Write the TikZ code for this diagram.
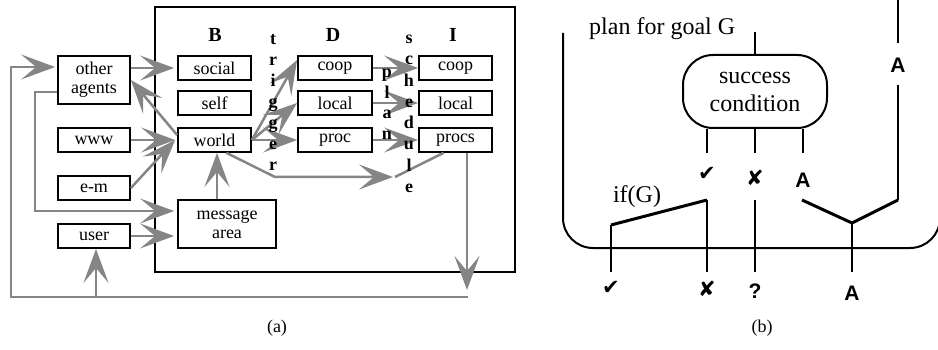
\documentclass[tikz,border=0pt]{standalone}
\usepackage{fontspec}
\setmainfont{Liberation Serif}
\newfontfamily\lsans{Liberation Sans}
\newfontfamily\dvs{DejaVu Sans}
\usetikzlibrary{arrows.meta,calc}
\definecolor{arrgray}{HTML}{858585}
\begin{document}
\begin{tikzpicture}[x=1pt,y=-1pt,
  box/.style={draw=black,line width=1.8pt,inner sep=0pt,minimum width=73pt,minimum height=24pt,
    font=\fontsize{18}{19}\selectfont,align=center},
  arr/.style={draw=arrgray,line width=2.5pt,line join=miter,-{Stealth[length=34pt,width=25pt,inset=15pt]}},
  gline/.style={draw=arrgray,line width=2.5pt},
  letter/.style={font=\fontsize{18}{18}\selectfont\bfseries,anchor=base,inner sep=0pt},
  head/.style={font=\fontsize{20}{20}\selectfont\bfseries,anchor=base,inner sep=0pt},
  rline/.style={line width=2pt,line cap=butt},
  rthick/.style={line width=3pt,line join=miter},
  sym/.style={font=\lsans\bfseries\fontsize{21}{21}\selectfont,inner sep=0pt},
  chk/.style={font=\dvs\fontsize{21}{21}\selectfont,inner sep=0pt},
  rtext/.style={font=\fontsize{24}{28}\selectfont,inner sep=0pt,align=center},
  captext/.style={font=\fontsize{18}{18}\selectfont,inner sep=0pt}
]
\useasboundingbox (0,0) rectangle (938,350);

% ---------- panel (a) ----------
\draw[line width=2pt] (155,7) rectangle (515,272);

\node[box,minimum width=72pt,minimum height=48pt] (oa) at (94,80) {other\\agents};
\node[box,minimum width=72pt] (www) at (94,140) {www};
\node[box,minimum width=72pt] (em) at (94,188) {e-m};
\node[box,minimum width=72pt] (user) at (94,236) {user};

\node[box] (social) at (214.5,68) {social};
\node[box] (self) at (214.5,103) {self};
\node[box] (world) at (214.5,140) {world};
\node[box,minimum width=98pt,minimum height=48pt] (msg) at (227,224) {message\\area};

\node[box,minimum width=74pt] (dcoop) at (335,68) {coop};
\node[box,minimum width=74pt] (dlocal) at (335,103) {local};
\node[box,minimum width=74pt] (dproc) at (335,140) {proc};

\node[box] (icoop) at (455.5,68) {coop};
\node[box] (ilocal) at (455.5,103) {local};
\node[box] (iprocs) at (455.5,140) {procs};

\node[head] (hB) at (215,41.5) {B};
\node[head] (hD) at (333,41.5) {D};
\node[head] (hI) at (453,41.5) {I};

% connectors
\draw[arr] (oa.east |- social.west) -- ([xshift=-3pt]social.west);
\draw[arr] ([yshift=5pt]world.west) -- (oa.east);
\draw[arr] (www.east) -- ([xshift=-2pt]world.west);
\draw[arr] (em.east) -- ([xshift=-2pt]world.west);
\coordinate (l1) at (35,211);
\draw[arr] ([yshift=-12pt]oa.west) -| (l1) -- ([xshift=-3pt]msg.west |- l1);
\draw[arr] (user.east) -- ([xshift=-3pt]msg.west |- user.east);
\draw[arr] ([xshift=-10pt]msg.north) -- ([xshift=-10pt]msg.north |- world.south);

\draw[arr] (world.east) -- ([yshift=8pt]dcoop.west);
\draw[arr] (world.east) -- (dlocal.west);
\draw[arr] (world.east) -- (dproc.west);

\draw[arr] (dcoop.east) -- (icoop.west);
\draw[arr] (dlocal.east) -- (ilocal.west);
\draw[arr] (dproc.east) -- (iprocs.west);

\coordinate (wb) at (275,177);
\coordinate (wt) at (393,177);
\coordinate (ws) at (395,177);
\draw[arr] ([xshift=12pt]world.south) -- (wb) -- (wt);
\draw[gline] (ws) -- ([xshift=-12pt]iprocs.south);

\coordinate (pd) at (467,290);
\draw[arr] ([xshift=11.5pt]iprocs.south) -- (pd);
\coordinate (bR) at (468,297);
\coordinate (bL) at (11,67);
\draw[arr] (bR) -| (bL) -- ([xshift=-2pt]oa.west |- bL);
\coordinate (bU) at (96,297);
\draw[arr] (bU) -- (bU |- user.south);

% vertical words
\foreach \c [count=\i] in {t,r,i,g,g,e,r}
  \node[letter,name=trg\i] at (273,{45+21*(\i-1)}) {\c};
\foreach \c [count=\i] in {p,l,a,n}
  \node[letter,name=pln\i] at (387,{78+20.5*(\i-1)}) {\c};
\foreach \c [count=\i] in {s,c,h,e,d,u,l,e}
  \node[letter,name=sch\i] at (409,{43.5+21.3*(\i-1)}) {\c};

\node[captext] (capa) at (277,328) {(a)};

% ---------- panel (b) ----------
\draw[line width=2pt] (563,33) -- (563,218) arc[start angle=180,end angle=90,radius=30]
  -- (910,248) arc[start angle=90,end angle=0,radius=30] -- (940,190);

\node[rtext,anchor=base west] (plan) at (589,35) {plan for goal G};

\node[draw,line width=2pt,rounded corners=30pt,minimum width=144pt,minimum height=73pt,
  rtext] (sc) at (755,91.5) {success\\condition};

\coordinate (top) at (755,32);
\draw[rline] (top) -- (sc.north);
\coordinate (s1) at (707,153);
\coordinate (s2) at (755,153);
\coordinate (s3) at (803,153);
\draw[rline] (s1 |- sc.south) -- (s1);
\draw[rline] (s2 |- sc.south) -- (s2);
\draw[rline] (s3 |- sc.south) -- (s3);

\node[chk] (c1) at (707,174) {✔};
\node[chk] (x1) at (755,178) {✘};
\node[sym] (a1) at (803,180) {A};

\node[sym] (a2) at (898,65) {A};
\coordinate (t0) at (898,0);
\draw[rline] (t0) -- (a2.north |- 0,43);
\coordinate (r1) at (898,200);
\coordinate (r2) at (802,200);
\coordinate (jn) at (852,223);
\coordinate (jb) at (852,272);
\draw[rline] (a2.south |- 0,85) -- (r1);
\draw[rthick] (r1) -- (jn) -- (r2);
\draw[rline] (jn) -- (jb);
\node[sym] (a3) at (852,293) {A};

\coordinate (f1) at (611,272);
\coordinate (f2) at (611,225);
\coordinate (f3) at (707,200);
\coordinate (f4) at (707,272);
\draw[rline] (f1) -- (f2);
\draw[rthick] (f2) -- (f3);
\draw[rline] (f3) -- (f4);
\node[rtext] (ifg) at (637,197) {if(G)};

\coordinate (m1) at (755,200);
\coordinate (m2) at (755,272);
\draw[rline] (m1) -- (m2);

\node[chk] (c2) at (611,288) {✔};
\node[chk] (x2) at (707,289) {✘};
\node[sym] (q) at (755,291) {?};

\node[captext] (capb) at (762,328) {(b)};
\end{tikzpicture}
\end{document}
